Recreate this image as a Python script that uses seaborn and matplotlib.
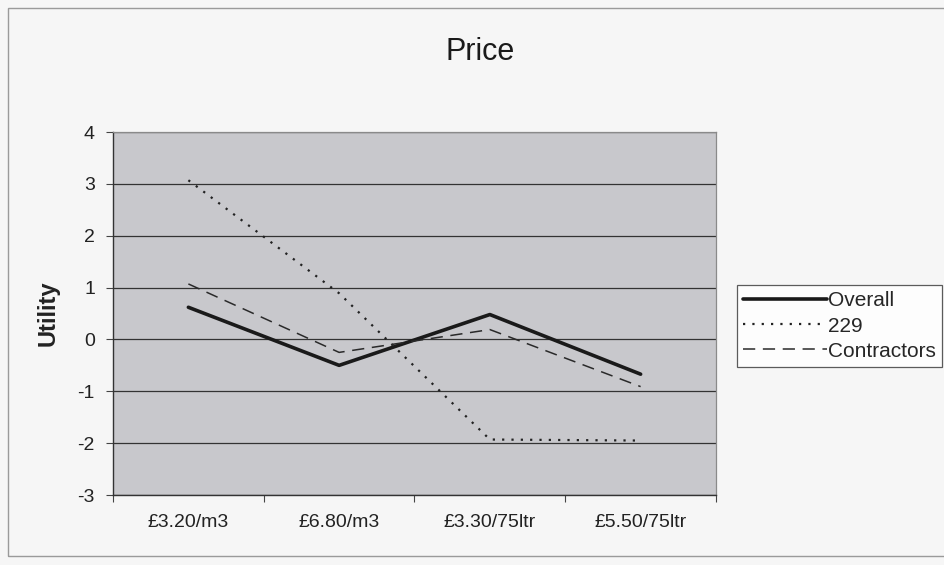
import matplotlib
matplotlib.use("Agg")
import matplotlib.pyplot as plt
from matplotlib.lines import Line2D
from matplotlib.patches import Rectangle
import seaborn as sns
import pandas as pd

# Price levels and part-worth utilities per group
prices = ["£3.20/m3", "£6.80/m3", "£3.30/75ltr", "£5.50/75ltr"]
overall = [0.62, -0.50, 0.48, -0.67]
group_229 = [3.07, 0.89, -1.93, -1.95]
contractors = [1.07, -0.25, 0.19, -0.91]
series_names = ["Overall", "229", "Contractors"]
y_ticks = [-3, -2, -1, 0, 1, 2, 3, 4]

df = pd.DataFrame({
    "Price": prices * 3,
    "Utility": overall + group_229 + contractors,
    "Series": [s for s in series_names for _ in prices],
})

sns.set_theme(style="white")
plt.rcParams["font.family"] = ["Liberation Sans", "DejaVu Sans"]

W, H = 945, 565
fig = plt.figure(figsize=(W / 100, H / 100), dpi=100, facecolor="#f6f6f6")
ax = fig.add_axes([113 / W, 1 - 495 / H, (716 - 113) / W, (495 - 132) / H])
ax.set_facecolor("#c8c8cc")

styles = {
    "Overall": dict(color="#1a1a1a", lw=2.6, ls="-"),
    "229": dict(color="#222222", lw=1.6, ls=(0, (1, 3.2))),
    "Contractors": dict(color="#2a2a2a", lw=1.1, ls=(0, (8, 5))),
}
xpos = {p: i for i, p in enumerate(prices)}
df["x"] = df["Price"].map(xpos)
for name in series_names:
    sub = df[df["Series"] == name]
    st = styles[name]
    sns.lineplot(data=sub, x="x", y="Utility", ax=ax, color=st["color"],
                 linewidth=st["lw"], linestyle=st["ls"], legend=False,
                 zorder=3)

ax.set_xlim(-0.5, len(prices) - 0.5)
ax.set_ylim(-3, 4)
ax.set_yticks(y_ticks)
ax.set_yticklabels([str(v) for v in y_ticks], fontsize=14, color="#222222")
ax.set_xticks(range(len(prices)))
ax.set_xticklabels(prices, fontsize=14, color="#222222")
ax.set_xticks([i - 0.5 for i in range(len(prices) + 1)], minor=True)
ax.tick_params(axis="x", which="major", length=0, pad=14)
ax.tick_params(axis="x", which="minor", length=5, width=0.8, color="#444444",
               direction="out", bottom=True)
ax.tick_params(axis="y", which="major", length=5, width=0.8, color="#444444",
               direction="out", left=True, pad=8)
ax.grid(axis="y", color="#333333", linewidth=0.9)
ax.grid(axis="x", visible=False)
ax.set_axisbelow(True)
for side in ["top", "right"]:
    ax.spines[side].set_color("#8a8a8a")
    ax.spines[side].set_linewidth(0.9)
for side in ["left", "bottom"]:
    ax.spines[side].set_color("#333333")
    ax.spines[side].set_linewidth(1.0)

ax.set_xlabel("")
ax.set_ylabel("Utility", fontsize=17, fontweight="bold", color="#222222",
              labelpad=13)

fig.text(480 / W, 1 - 52 / H, "Price", ha="center", va="center",
         fontsize=22, color="#1a1a1a")

handles = [Line2D([], [], color=styles[n]["color"], linewidth=styles[n]["lw"],
                  linestyle=styles[n]["ls"]) for n in series_names]
leg = fig.legend(handles, series_names, loc="upper left",
                 bbox_to_anchor=(737 / W, 1 - 285 / H), frameon=True,
                 fontsize=15, handlelength=4.0, handletextpad=0.05,
                 labelspacing=0.3, borderpad=0.3, borderaxespad=0,
                 fancybox=False)
leg.get_frame().set_edgecolor("#333333")
leg.get_frame().set_linewidth(0.9)
leg.get_frame().set_facecolor("#ffffff")

# outer chart frame
fig.patches.append(Rectangle((8 / W, 1 - 556 / H), (960 - 8) / W,
                             (556 - 8) / H, transform=fig.transFigure,
                             fill=False, edgecolor="#9a9a9a", linewidth=1.0))

fig.savefig("out.png", dpi=100, facecolor=fig.get_facecolor())
